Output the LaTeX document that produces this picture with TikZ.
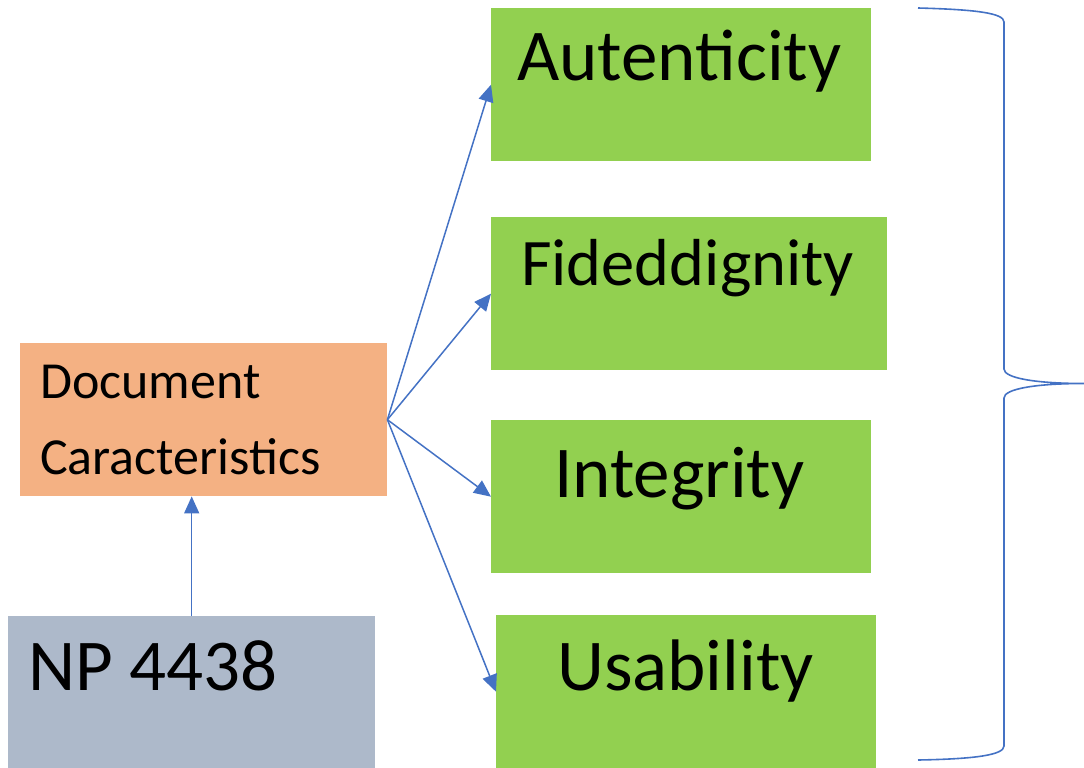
\documentclass[tikz,border=0pt]{standalone}
\usepackage{fontspec}
\setmainfont{Carlito}
\usetikzlibrary{arrows.meta}
\definecolor{boxgreen}{HTML}{92D050}
\definecolor{boxorange}{HTML}{F4B183}
\definecolor{boxgrey}{HTML}{ADB9CA}
\definecolor{lineblue}{HTML}{4472C4}
\tikzset{
  box/.style={draw=none, inner sep=0pt, anchor=north west},
  big/.style={inner sep=0pt, anchor=base west, font=\fontsize{73}{80}\selectfont},
  mid/.style={inner sep=0pt, anchor=base west, font=\fontsize{52}{60}\selectfont},
  conn/.style={draw=lineblue, line width=1.5pt, arrows={-Triangle[length=17pt,width=15pt]}},
  brace/.style={draw=lineblue, line width=1.6pt}
}
\begin{document}
\begin{tikzpicture}[x=1pt,y=-1pt]
\useasboundingbox (0,0) rectangle (1084,768);
% boxes
\node[box, fill=boxgreen, minimum width=380pt, minimum height=153pt] (aut) at (491,8) {};
\node[box, fill=boxgreen, minimum width=396pt, minimum height=153pt] (fid) at (491,217) {};
\node[box, fill=boxgreen, minimum width=380pt, minimum height=153pt] (int) at (491,420) {};
\node[box, fill=boxgreen, minimum width=380pt, minimum height=153pt] (usa) at (496,615) {};
\node[box, fill=boxorange, minimum width=367pt, minimum height=153pt] (doc) at (20,343) {};
\node[box, fill=boxgrey, minimum width=367pt, minimum height=153pt] (np) at (8,616) {};
% texts
\node[big] (tAut) at (517,81) {Autenticity};
\node[big, font=\fontsize{66.5}{72}\selectfont] (tFid) at (521,285) {Fideddignity};
\node[big] (tInt) at (554,497) {Integrity};
\node[big] (tUsa) at (557,690) {Usability};
\node[big] (tNp) at (28,690) {NP 4438};
\node[mid] (tDoc1) at (40,398) {Document};
\node[mid] (tDoc2) at (40,474) {Caracteristics};
% connectors
\draw[conn] (doc.east) -- (aut.west);
\draw[conn] (doc.east) -- (fid.west);
\draw[conn] (doc.east) -- (int.west);
\draw[conn] (doc.east) -- (usa.west);
\draw[conn] (np.north) -- (np.north |- doc.south);
% brace
\coordinate (btip) at (1084,383.5);
\draw[brace] (918,8) .. controls (975,9.5) and (1004,13) .. (1004,22) -- (1004,369)
  .. controls (1004,378) and (1035,383.5) .. (btip)
  .. controls (1035,383.5) and (1004,389) .. (1004,398) -- (1004,746)
  .. controls (1004,755) and (975,759) .. (918,760);
\end{tikzpicture}
\end{document}
